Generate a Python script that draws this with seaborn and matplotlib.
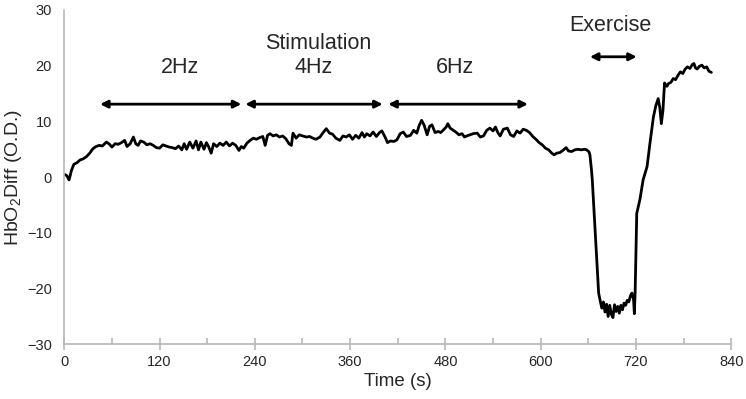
import matplotlib
matplotlib.use("Agg")
import matplotlib.pyplot as plt
import seaborn as sns
import pandas as pd

time_s = [0, 3, 6, 9, 12, 16, 20, 24, 28, 32, 36, 40, 44, 48, 53, 57, 60, 64, 68, 72,
          76, 79, 83, 87, 90, 93, 96, 100, 104, 108, 112, 116, 120, 124, 128, 132, 136, 140, 144, 148,
          151, 154, 158, 162, 166, 169, 172, 176, 179, 182, 185, 188, 192, 196, 200, 204, 208, 212, 216, 220,
          223, 226, 230, 234, 238, 242, 246, 250, 253, 256, 259, 263, 267, 271, 275, 279, 283, 286, 288, 292,
          296, 300, 305, 309, 313, 317, 322, 326, 330, 334, 338, 342, 347, 351, 355, 359, 363, 367, 371, 375,
          378, 381, 385, 389, 393, 397, 400, 404, 407, 411, 415, 419, 423, 427, 431, 436, 440, 444, 447, 450,
          453, 457, 460, 463, 467, 471, 474, 477, 481, 483, 486, 490, 494, 497, 501, 504, 507, 511, 515, 520,
          524, 528, 532, 536, 540, 543, 546, 549, 553, 558, 562, 566, 570, 574, 578, 582, 586, 590, 594, 598,
          602, 606, 610, 614, 617, 620, 624, 628, 632, 635, 639, 643, 647, 651, 655, 658, 661, 662, 664, 665,
          667, 669, 671, 673, 675, 677, 679, 681, 683, 685, 687, 689, 691, 693, 695, 697, 699, 701, 703, 705,
          707, 709, 711, 713, 715, 717, 718, 719, 721, 725, 729, 734, 738, 742, 745, 748, 750, 752, 754, 756,
          759, 761, 764, 767, 770, 773, 776, 779, 782, 785, 788, 791, 793, 795, 797, 800, 803, 806, 809, 812,
          815]
hbo2_diff = [0.5, 0.3, -0.5, 1.2, 2.3, 2.6, 3.1, 3.3, 3.7, 4.3, 5.1, 5.5, 5.7, 5.6, 6.3, 5.9, 5.4, 6.0, 5.9, 6.2,
             6.6, 5.5, 6.0, 7.2, 6.0, 5.7, 6.5, 6.3, 5.8, 6.0, 5.7, 5.3, 5.2, 5.8, 5.6, 5.4, 5.3, 5.1, 5.6, 4.9,
             6.0, 5.0, 6.3, 5.2, 6.5, 4.9, 6.3, 5.0, 6.2, 5.4, 4.3, 6.0, 5.5, 6.1, 5.7, 6.3, 5.6, 6.1, 5.7, 4.8,
             5.5, 5.2, 6.1, 6.6, 7.0, 6.8, 7.1, 7.3, 5.7, 7.5, 7.8, 7.4, 7.6, 7.2, 7.4, 6.9, 6.0, 5.7, 7.9, 7.0,
             7.6, 7.4, 7.2, 7.3, 7.0, 6.8, 7.2, 8.0, 8.7, 7.9, 7.7, 7.0, 6.6, 7.4, 7.2, 7.6, 6.8, 7.5, 7.0, 8.0,
             7.2, 7.8, 7.4, 8.1, 7.3, 8.0, 8.3, 7.2, 6.2, 6.5, 6.4, 6.7, 7.8, 8.1, 7.3, 7.5, 8.4, 7.9, 9.3, 10.2,
             9.4, 7.6, 9.1, 9.4, 8.0, 8.2, 8.0, 8.4, 9.0, 9.6, 8.8, 8.4, 8.0, 7.6, 7.8, 7.2, 7.4, 7.6, 7.8, 7.9,
             7.2, 7.4, 8.4, 8.8, 8.3, 9.0, 8.0, 7.4, 8.6, 8.8, 7.6, 7.3, 8.3, 7.9, 8.6, 8.4, 8.0, 7.3, 6.8, 6.2,
             5.8, 5.2, 4.9, 4.3, 4.0, 4.3, 4.4, 4.8, 5.3, 4.7, 4.6, 4.9, 5.0, 4.9, 5.0, 4.9, 4.5, 4.0, 1.3, -0.5,
             -5.5, -10.6, -15.7, -20.8, -22.2, -23.5, -22.4, -24.2, -22.8, -25.0, -23.0, -24.6, -25.2, -22.9, -24.1, -23.2, -24.4, -23.0, -23.8, -22.6,
             -23.0, -22.1, -22.4, -21.3, -20.8, -22.0, -24.5, -20.5, -6.5, -4.0, -0.5, 1.9, 6.5, 10.8, 12.8, 14.1, 12.5, 9.6, 12.0, 16.9,
             16.3, 16.8, 17.0, 17.7, 17.5, 18.3, 18.9, 18.6, 19.4, 19.8, 19.5, 20.2, 20.4, 19.6, 19.4, 19.9, 20.1, 19.6, 19.8, 19.0,
             18.8]

x_ticks = [0, 120, 240, 360, 480, 600, 720, 840]
y_ticks = [-30, -20, -10, 0, 10, 20, 30]

# annotation content
stim_labels = ["2Hz", "4Hz", "6Hz"]
stim_label_x = [146, 314, 492]
stim_spans = [(45, 223), (228, 401), (408, 584)]
exercise_span = (662, 721)

sns.set_theme(style="white")
plt.rcParams["font.family"] = ["Liberation Sans", "DejaVu Sans"]
plt.rcParams["mathtext.default"] = "regular"

df = pd.DataFrame({"Time (s)": time_s, "HbO2": hbo2_diff})

fig = plt.figure(figsize=(7.46, 3.99), dpi=100)
ax = fig.add_axes([0.0862, 0.137, 0.894, 0.838])
sns.lineplot(data=df, x="Time (s)", y="HbO2", ax=ax, color="black", linewidth=2.0)

ax.set_xlim(0, 840)
ax.set_ylim(-30, 30)
ax.set_xticks(x_ticks)
ax.set_xticks([60 + 120 * i for i in range(7)], minor=True)
ax.set_yticks(y_ticks)
for s in ["top", "right"]:
    ax.spines[s].set_visible(False)
for s in ["left", "bottom"]:
    ax.spines[s].set_color("#b8b8b8")
    ax.spines[s].set_linewidth(1.2)
ax.tick_params(axis="x", which="major", direction="inout", length=9, width=1.2,
               color="#b8b8b8", labelsize=10.5, pad=3, bottom=True)
ax.tick_params(axis="x", which="minor", direction="in", length=4, width=1.2,
               color="#b8b8b8", bottom=True)
ax.tick_params(axis="y", length=0, labelsize=10.5, pad=9)
ax.set_xlabel("Time (s)", fontsize=13.5, labelpad=3)
ax.set_ylabel("HbO$_2$Diff (O.D.)", fontsize=14, labelpad=2)

arrow_kw = dict(arrowstyle="<|-|>", color="black", lw=2, mutation_scale=11,
                shrinkA=0, shrinkB=0)
for lab, lx, (a, b) in zip(stim_labels, stim_label_x, stim_spans):
    ax.text(lx, 19.7, lab, ha="center", va="center", fontsize=15.5)
    ax.annotate("", xy=(b, 13.1), xytext=(a, 13.1), arrowprops=arrow_kw)
ax.text(320, 24.0, "Stimulation", ha="center", va="center", fontsize=15.5)
ax.text(688, 27.2, "Exercise", ha="center", va="center", fontsize=15.5)
ax.annotate("", xy=(exercise_span[1], 21.6), xytext=(exercise_span[0], 21.6),
            arrowprops=arrow_kw)

fig.savefig("out.png", dpi=100)
